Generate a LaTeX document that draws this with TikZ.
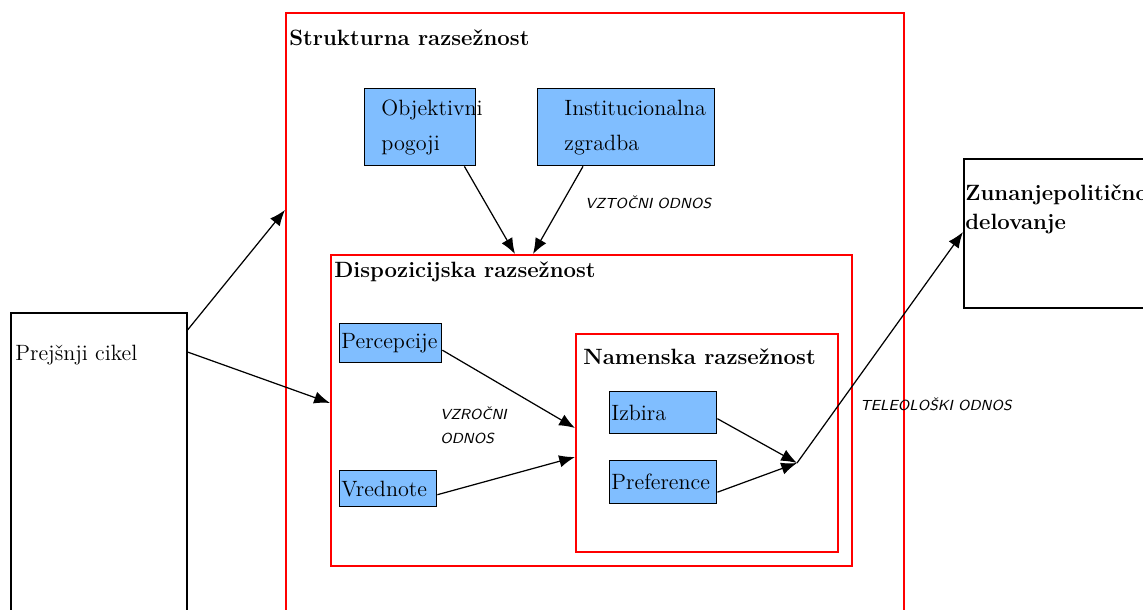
\documentclass[tikz,border=0pt]{standalone}
\usepackage{fontspec}
\usepackage{tikz}
\usetikzlibrary{arrows.meta,calc,positioning}
\definecolor{boxblue}{RGB}{128,190,255}
\tikzset{
  dimbox/.style={draw=red, line width=1pt, anchor=north west, inner sep=0pt},
  outbox/.style={draw=black, line width=0.9pt, anchor=north west, inner sep=0pt},
  varbox/.style={draw=black, fill=boxblue, line width=0.8pt, anchor=north west, align=left, inner xsep=1pt, inner ysep=0pt, font=\fontsize{12.6}{20}\selectfont},
  dimtitle/.style={anchor=west, inner sep=0pt, font=\fontsize{12.6}{14}\selectfont\bfseries},
  reltext/.style={align=left, inner sep=0pt, font=\fontsize{8.3}{14}\selectfont\sffamily\itshape},
  rel/.style={-{Latex[length=9pt,width=7pt]}, line width=0.7pt}
}
\begin{document}
\begin{tikzpicture}[x=0.02cm,y=-0.02cm]
\useasboundingbox (0,0) rectangle (1143,609);
\node[dimbox, minimum width=12.36cm, minimum height=12.4cm] (strukt) at (285,12) {};
\node[dimbox, minimum width=10.42cm, minimum height=6.22cm] (disp) at (330,254) {};
\node[dimbox, minimum width=5.24cm, minimum height=4.36cm] (namen) at (575,333) {};
\node[dimtitle] (strukttitle) at (289,38) {Strukturna razsežnost};
\node[dimtitle] (disptitle) at (334,272) {Dispozicijska razsežnost};
\node[dimtitle] (namentitle) at (583,357) {Namenska razsežnost};
\node[outbox, minimum width=3.52cm, minimum height=6.4cm] (prej) at (10,312) {};
\node[anchor=west, inner sep=0pt, font=\fontsize{12.6}{14}\selectfont] (prejtext) at (15,355) {Prejšnji cikel};
\node[outbox, minimum width=4cm, minimum height=2.98cm] (zun) at (963,158) {};
\node[anchor=north west, align=left, inner sep=0pt, font=\fontsize{12.6}{17}\selectfont\bfseries] (zuntext) at (965,184) {Zunanjepolitično\\delovanje};
\node[varbox, text width=2.15cm, minimum height=1.54cm] (obj) at (364,88) {\hspace*{0.3cm}\mbox{Objektivni}\\\hspace*{0.3cm}pogoji};
\node[varbox, text width=3.47cm, minimum height=1.54cm] (inst) at (537,88) {\hspace*{0.5cm}Institucionalna\\\hspace*{0.5cm}zgradba};
\node[varbox, text width=1.97cm, minimum height=0.78cm] (perc) at (339,323) {Percepcije};
\node[varbox, text width=1.87cm, minimum height=0.72cm] (vred) at (339,470) {Vrednote};
\node[varbox, text width=2.07cm, minimum height=0.84cm] (izb) at (609,391) {Izbira};
\node[varbox, text width=2.07cm, minimum height=0.86cm] (pref) at (609,460) {Preference};
\coordinate (join) at (797,463);
\draw[rel] ($(prej.north east)+(0,18)$) -- ($(strukt.north west)+(0,198)$);
\draw[rel] ($(prej.north east)+(0,40)$) -- ($(disp.north west)+(0,149)$);
\draw[rel] ($(obj.south east)+(-12,0)$) -- ($(disp.north west)+(185,0)$);
\draw[rel] ($(inst.south west)+(46,0)$) -- ($(disp.north west)+(203,0)$);
\draw[rel] ($(perc.east)+(0,7)$) -- ($(namen.north west)+(0,95)$);
\draw[rel] ($(vred.east)+(0,6)$) -- ($(namen.north west)+(0,124)$);
\draw[rel] ($(izb.east)+(0,6)$) -- (join);
\draw[rel] ($(pref.east)+(0,10)$) -- (join);
\draw[rel] (join) -- ($(zun.north west)+(0,74)$);
\node[reltext, anchor=west] (rel1) at (585,202) {VZTOČNI ODNOS};
\node[reltext, anchor=north west] (rel2) at (440,406) {VZROČNI\\ODNOS};
\node[reltext, anchor=west] (rel3) at (860,404) {TELEOLOŠKI ODNOS};
\end{tikzpicture}
\end{document}
